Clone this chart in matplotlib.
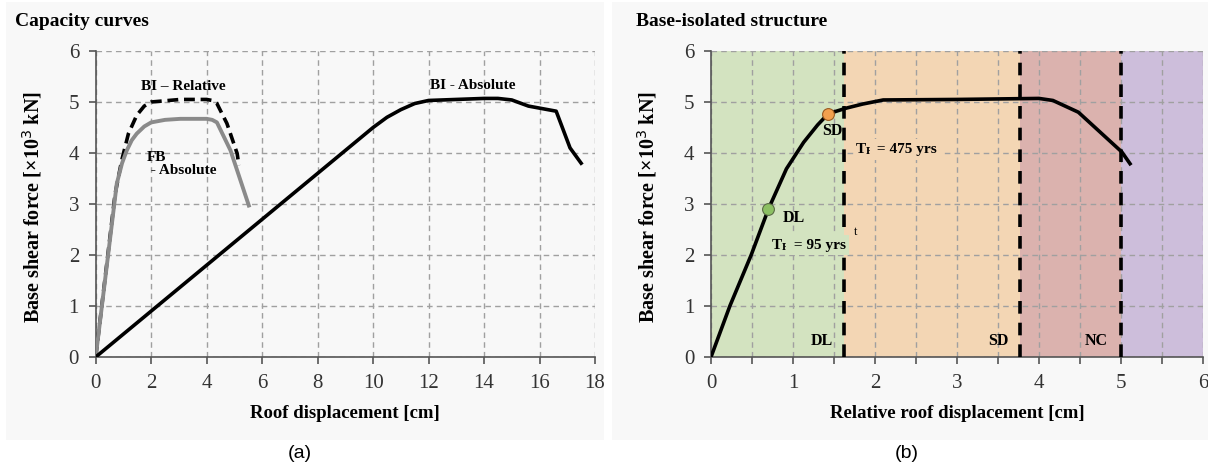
import matplotlib
matplotlib.use("Agg")
import matplotlib.pyplot as plt
from matplotlib.patches import Rectangle

# ---------------- data ----------------
bi_abs_x = [0, 9, 10, 10.5, 11, 11.5, 12, 13, 14, 14.5, 15, 15.6, 16.6, 17.1, 17.5]
bi_abs_y = [0, 4.05, 4.5, 4.7, 4.85, 4.97, 5.03, 5.05, 5.07, 5.07, 5.04, 4.92, 4.82, 4.1, 3.8]

fb_x = [0, 0.76, 0.95, 1.12, 1.3, 1.48, 1.75, 2.0, 2.5, 3.05, 4.0, 4.2, 4.37, 4.86, 5.52]
fb_y = [0, 3.4, 3.8, 4.05, 4.25, 4.38, 4.52, 4.6, 4.65, 4.67, 4.67, 4.65, 4.6, 4.05, 2.97]

bir_x = [0, 0.7, 0.94, 1.18, 1.48, 1.75, 2.0, 3.05, 4.0, 4.2, 4.37, 4.73, 5.1, 5.16]
bir_y = [0, 3.2, 3.86, 4.38, 4.74, 4.92, 5.0, 5.05, 5.05, 5.03, 4.97, 4.58, 3.99, 3.76]

rel_x = [0, 0.23, 0.49, 0.70, 0.92, 1.13, 1.3, 1.43, 1.65, 1.85, 2.1, 3.0, 4.0, 4.17, 4.48, 5.01, 5.11]
rel_y = [0, 1.0, 2.0, 2.9, 3.69, 4.21, 4.55, 4.77, 4.88, 4.96, 5.04, 5.05, 5.07, 5.03, 4.8, 4.02, 3.79]

pp_names = ["DL", "SD"]
pp_x = [0.70, 1.43]
pp_y = [2.9, 4.77]
pp_colors = ["#8cc063", "#f2a04e"]

zone_edges = [0, 1.62, 3.77, 5.0, 6]
zone_colors = ["#d3e3c0", "#f3d6b4", "#dbb2ae", "#cdbedb"]
zone_labels = ["DL", "SD", "NC"]

serif = "Liberation Serif"
W, H = 1208, 469
fig = plt.figure(figsize=(W / 100, H / 100), dpi=100)
fig.patch.set_facecolor("white")

# light gray panel backgrounds
fig.add_artist(Rectangle((6 / W, 1 - 440 / H), 598 / W, 438 / H, transform=fig.transFigure,
                         facecolor="#f8f8f8", edgecolor="none", zorder=-10))
fig.add_artist(Rectangle((612 / W, 1 - 440 / H), 596 / W, 438 / H, transform=fig.transFigure,
                         facecolor="#f8f8f8", edgecolor="none", zorder=-10))

bottom = (H - 357) / H
height = 306 / H
axL = fig.add_axes([95.7 / W, bottom, (595 - 95.7) / W, height])
axR = fig.add_axes([711 / W, bottom, 492 / W, height])

for ax in (axL, axR):
    ax.set_facecolor("none")
    for s in ("top", "right"):
        ax.spines[s].set_visible(False)
    for s in ("left", "bottom"):
        ax.spines[s].set_color("#555555")
        ax.spines[s].set_linewidth(1.2)
    ax.tick_params(direction="out", length=5, width=1.2, color="#555555",
                   labelsize=15, labelcolor="#333333", pad=7)
    for lab in ax.get_xticklabels() + ax.get_yticklabels():
        lab.set_fontfamily(serif)
    ax.set_ylim(0, 6)
    ax.set_yticks(range(0, 7))
    ax.grid(True, linestyle=(0, (4, 3)), color="#a0a0a0", linewidth=1.0)
    ax.set_axisbelow(True)

# ---------------- left panel ----------------
axL.set_xlim(0, 18)
axL.set_xticks(range(0, 19, 2))
axL.plot(bir_x, bir_y, color="black", lw=2.6, ls=(0, (3, 1.6)), zorder=3)
axL.plot(fb_x, fb_y, color="#8a8a8a", lw=2.8, zorder=4)
axL.plot(bi_abs_x, bi_abs_y, color="black", lw=2.6, zorder=4)
axL.text(3.15, 5.31, "BI – Relative", fontfamily=serif, fontweight="bold", fontsize=11,
         ha="center", va="center", zorder=5)
axL.text(1.85, 3.78, "FB\n - Absolute", fontfamily=serif, fontweight="bold", fontsize=11,
         ha="left", va="center", linespacing=1.05, zorder=5)
axL.text(13.6, 5.33, "BI - Absolute", fontfamily=serif, fontweight="bold", fontsize=11,
         ha="center", va="center", zorder=5)

# ---------------- right panel ----------------
axR.set_xlim(0, 6)
axR.set_xticks(range(0, 7))
axR.set_xticks([0.5, 1.5, 2.5, 3.5, 4.5, 5.5], minor=True)
axR.tick_params(which="minor", direction="out", length=5, width=1.2, color="#555555")
axR.grid(True, which="minor", axis="x", linestyle=(0, (4, 3)), color="#a0a0a0", linewidth=1.0)
for i in range(len(zone_colors)):
    axR.axvspan(zone_edges[i], zone_edges[i + 1], color=zone_colors[i], lw=0, zorder=0)
for i, lab in enumerate(zone_labels):
    xe = zone_edges[i + 1]
    axR.axvline(xe, color="black", lw=2.6, ls=(0, (3.5, 2.5)), zorder=3)
axR.text(1.49, 0.32, "DL", fontfamily=serif, fontweight="bold", fontsize=11.5, ha="right", va="center")
axR.text(3.63, 0.32, "SD", fontfamily=serif, fontweight="bold", fontsize=11.5, ha="right", va="center")
axR.text(4.84, 0.32, "NC", fontfamily=serif, fontweight="bold", fontsize=11.5, ha="right", va="center")

axR.plot(rel_x, rel_y, color="black", lw=2.6, zorder=4)
for n, x, y, c in zip(pp_names, pp_x, pp_y, pp_colors):
    axR.plot([x], [y], "o", ms=8.5, mfc=c, mec="#5a6b45" if n == "DL" else "#9a5a20",
             mew=0.8, zorder=6)
axR.text(0.88, 2.73, "DL", fontfamily=serif, fontweight="bold", fontsize=11.5, ha="left", va="center", zorder=6)
axR.text(1.48, 4.44, "SD", fontfamily=serif, fontweight="bold", fontsize=11.5, ha="center", va="center", zorder=6)


def tr_label(ax, x, y, rest, bg):
    t1 = ax.text(x, y, "T", fontfamily=serif, fontweight="bold", fontsize=11, ha="left",
                 va="baseline", zorder=6,
                 bbox=dict(facecolor=bg, edgecolor="none", pad=0))
    t2 = ax.annotate("R", xy=(1, 0), xycoords=t1, fontfamily=serif, fontweight="bold",
                     fontsize=8, ha="left", va="bottom", zorder=6,
                     bbox=dict(facecolor=bg, edgecolor="none", pad=0))
    ax.annotate(rest, xy=(1, 0), xycoords=t2, fontfamily=serif, fontweight="bold",
                fontsize=11, ha="left", va="bottom", zorder=6,
                bbox=dict(facecolor=bg, edgecolor="none", pad=2.5))


tr_label(axR, 0.74, 2.12, " = 95 yrs", zone_colors[0])
axR.text(1.74, 2.45, "t", fontfamily=serif, fontsize=9, ha="left", va="center", zorder=6)
tr_label(axR, 1.76, 4.0, " = 475 yrs", zone_colors[1])

# ---------------- labels ----------------
ylab = "Base shear force [×10$^3$ kN]"
fig.text(32 / W, 1 - 207 / H, ylab, rotation=90, fontfamily=serif, fontweight="bold",
         fontsize=14.5, ha="center", va="center")
fig.text(647 / W, 1 - 207 / H, ylab, rotation=90, fontfamily=serif, fontweight="bold",
         fontsize=14.5, ha="center", va="center")
fig.text(345 / W, 1 - 413 / H, "Roof displacement [cm]", fontfamily=serif, fontweight="bold",
         fontsize=13.5, ha="center", va="center")
fig.text(957 / W, 1 - 413 / H, "Relative roof displacement [cm]", fontfamily=serif,
         fontweight="bold", fontsize=13.5, ha="center", va="center")
fig.text(15 / W, 1 - 22 / H, "Capacity curves", fontfamily=serif, fontweight="bold",
         fontsize=14, ha="left", va="center")
fig.text(636 / W, 1 - 22 / H, "Base-isolated structure", fontfamily=serif, fontweight="bold",
         fontsize=14, ha="left", va="center")
fig.text(300 / W, 1 - 453 / H, "(a)", fontfamily="Liberation Sans", fontsize=14,
         ha="center", va="center")
fig.text(907 / W, 1 - 453 / H, "(b)", fontfamily="Liberation Sans", fontsize=14,
         ha="center", va="center")

fig.savefig("out.png", dpi=100)
